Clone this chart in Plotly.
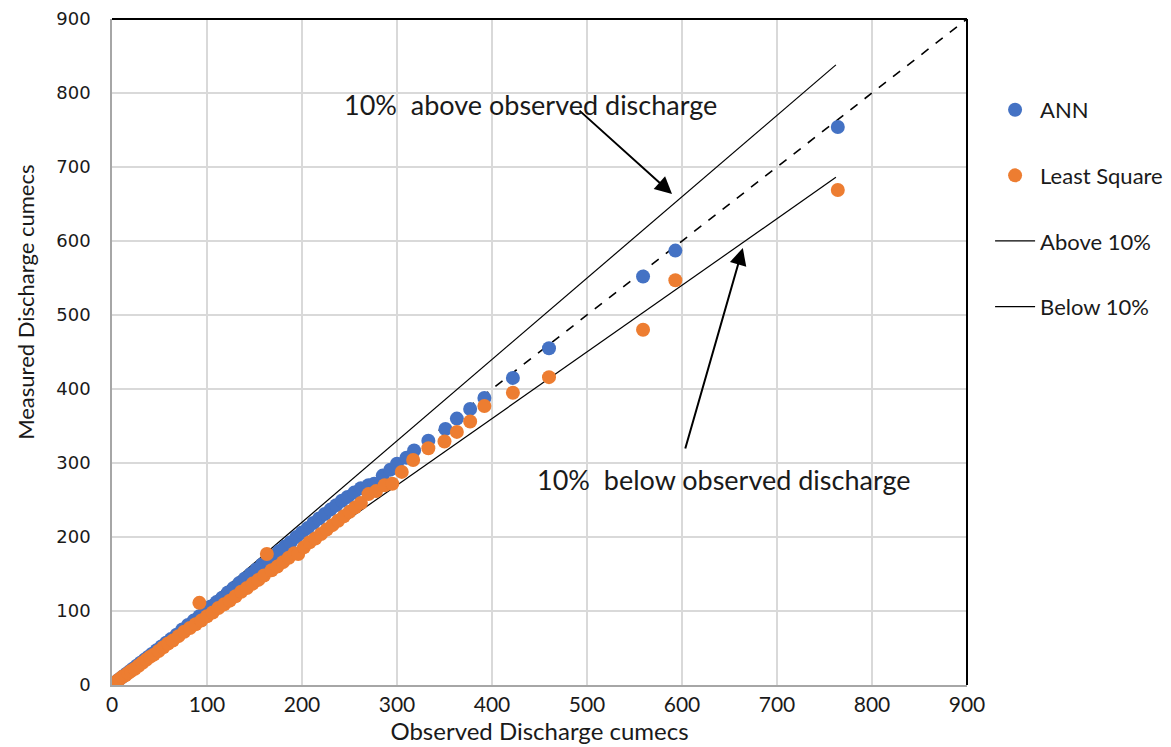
import plotly.graph_objects as go

# ---- data ----
ann_x = [1, 4, 7, 10, 13, 16, 19, 22, 26, 30, 34, 38, 42, 47, 52, 57, 62, 68, 74, 80,
         86, 92, 98, 104, 110, 116, 122, 128, 134, 140, 146, 152, 158, 164, 170, 176,
         182, 188, 194, 200, 206, 212, 218, 224, 230, 236, 242, 248, 255, 262, 270,
         276, 285, 293, 300, 310, 318, 333, 351, 363, 377, 392, 422, 460, 559, 593, 764]
ann_y = [0, 4, 7, 10, 13, 16, 19, 22, 26, 30, 34, 38, 42, 47, 52, 57, 62, 68, 75, 81,
         87, 93, 100, 106, 112, 118, 125, 131, 138, 144, 150, 156, 163, 169, 175, 181,
         187, 193, 200, 206, 212, 219, 225, 231, 237, 243, 249, 254, 260, 266, 270,
         272, 283, 291, 299, 307, 317, 330, 346, 360, 373, 388, 415, 455, 552, 587, 754]

ls_x = [2, 5, 8, 11, 14, 17, 20, 24, 28, 32, 36, 40, 44, 49, 54, 59, 64, 70, 76, 82,
        88, 92, 94, 100, 106, 112, 118, 124, 130, 136, 142, 148, 154, 160, 163, 168,
        174, 180, 186, 192, 196, 202, 208, 214, 220, 226, 232, 238, 244, 250, 256,
        262, 270, 278, 287, 295, 305, 317, 333, 350, 363, 377, 392, 422, 460, 559, 593, 764]
ls_y = [3, 5, 8, 11, 13, 16, 19, 22, 26, 30, 34, 38, 41, 46, 51, 56, 60, 66, 72, 77,
        82, 111, 87, 93, 98, 104, 109, 114, 120, 126, 131, 137, 142, 148, 177, 155,
        160, 166, 172, 178, 177, 186, 193, 198, 204, 210, 216, 222, 228, 234, 240,
        246, 258, 262, 270, 272, 288, 304, 320, 329, 342, 356, 377, 395, 416, 480, 547, 669]

line_equal_x = [0, 900]
line_equal_y = [0, 900]
above_x = [0, 762]
above_y = [0, 838]
below_x = [0, 762]
below_y = [0, 686]

tick_vals = [0, 100, 200, 300, 400, 500, 600, 700, 800, 900]

BLUE = "#4472C4"
ORANGE = "#ED7D31"
FONT = "Lato, 'Open Sans', sans-serif"
TXT = "#1a1a1a"

fig = go.Figure()

fig.add_trace(go.Scatter(x=line_equal_x, y=line_equal_y, mode="lines",
                         line=dict(color="black", width=1.6, dash="dash"),
                         showlegend=False, hoverinfo="skip"))
fig.add_trace(go.Scatter(x=above_x, y=above_y, mode="lines", name="Above 10%",
                         line=dict(color="black", width=1.2), legendgroup="c", legendrank=3))
fig.add_trace(go.Scatter(x=below_x, y=below_y, mode="lines", name="Below 10%",
                         line=dict(color="black", width=1.2), legendgroup="d", legendrank=4))
fig.add_trace(go.Scatter(x=ann_x, y=ann_y, mode="markers", name="ANN",
                         marker=dict(color=BLUE, size=14), legendgroup="a", legendrank=1))
fig.add_trace(go.Scatter(x=ls_x, y=ls_y, mode="markers", name="Least Square",
                         marker=dict(color=ORANGE, size=14), legendgroup="b", legendrank=2))

fig.add_annotation(x=589.5, y=663.5, ax=490.5, ay=778, xref="x", yref="y",
                   axref="x", ayref="y", showarrow=True, arrowhead=2, arrowsize=1.7,
                   arrowwidth=2, arrowcolor="black", text="")
fig.add_annotation(x=664, y=590.5, ax=603, ay=317.6, xref="x", yref="y",
                   axref="x", ayref="y", showarrow=True, arrowhead=2, arrowsize=1.7,
                   arrowwidth=2, arrowcolor="black", text="")
fig.add_annotation(x=242, y=784, xref="x", yref="y", xanchor="left", yanchor="middle",
                   showarrow=False, text="10%  above observed discharge",
                   font=dict(family=FONT, size=27, color=TXT))
fig.add_annotation(x=445, y=278, xref="x", yref="y", xanchor="left", yanchor="middle",
                   showarrow=False, text="10%  below observed discharge",
                   font=dict(family=FONT, size=27, color=TXT))
# y-axis title
fig.add_annotation(x=-0.102, y=0.575, xref="paper", yref="paper", textangle=-90,
                   xanchor="center", yanchor="middle", showarrow=False,
                   text="Measured Discharge cumecs",
                   font=dict(family=FONT, size=22, color=TXT))

# top / right dark frame
fig.add_shape(type="line", xref="paper", yref="paper", x0=0, x1=1, y0=1, y1=1,
              line=dict(color="black", width=2))
fig.add_shape(type="line", xref="paper", yref="paper", x0=1, x1=1, y0=0, y1=1,
              line=dict(color="black", width=2))

fig.update_xaxes(range=[0, 900], tickvals=tick_vals, showgrid=True, gridcolor="#d9d9d9",
                 gridwidth=1.5, zeroline=False, showline=True, linecolor="#a6a6a6",
                 linewidth=1.5, ticks="", automargin=False, ticklabeloverflow="allow",
                 tickfont=dict(family=FONT, size=21, color=TXT),
                 title=dict(text="Observed Discharge cumecs", standoff=0,
                            font=dict(family=FONT, size=24, color=TXT)))
fig.update_yaxes(range=[0, 900], tickvals=tick_vals, showgrid=True, gridcolor="#d9d9d9",
                 gridwidth=1.5, zeroline=False, showline=True, linecolor="#a6a6a6",
                 linewidth=1.5, ticks="", ticklabelstandoff=16, automargin=False,
                 ticklabeloverflow="allow",
                 tickfont=dict(family="DejaVu Sans", size=18, color=TXT))

fig.update_layout(
    width=1163, height=739,
    margin=dict(l=104, r=204, t=11, b=62, autoexpand=False),
    paper_bgcolor="white", plot_bgcolor="white",
    legend=dict(x=1.027, y=0.895, xanchor="left", yanchor="top",
                font=dict(family=FONT, size=22, color=TXT), itemwidth=40,
                tracegroupgap=34, bgcolor="rgba(0,0,0,0)"),
)

fig.write_html("out.html")
